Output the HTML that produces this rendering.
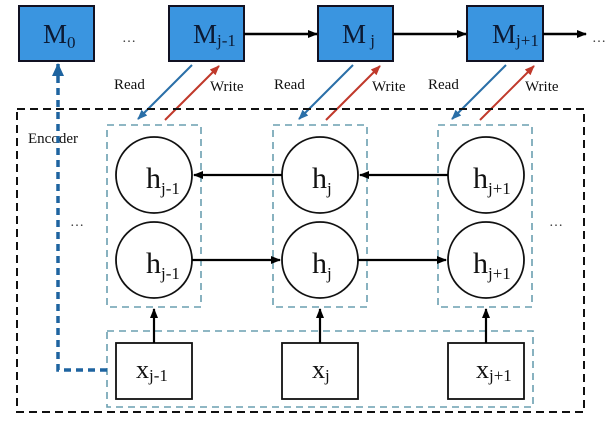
<!DOCTYPE html>
<html><head><meta charset="utf-8"><style>
html,body{margin:0;padding:0;background:#fff;}
svg{display:block;font-family:"Liberation Serif",serif;}
</style></head><body>
<svg width="615" height="422" viewBox="0 0 615 422" xmlns="http://www.w3.org/2000/svg">
<defs>
<marker id="ak" markerWidth="10" markerHeight="10" refX="9" refY="5" orient="auto" markerUnits="userSpaceOnUse"><path d="M0,1 L10,5 L0,9 z" fill="#000"/></marker>
<marker id="ab" markerWidth="10" markerHeight="10" refX="9" refY="5" orient="auto" markerUnits="userSpaceOnUse"><path d="M0,1 L10,5 L0,9 z" fill="#2a6fa8"/></marker>
<marker id="ar" markerWidth="10" markerHeight="10" refX="9" refY="5" orient="auto" markerUnits="userSpaceOnUse"><path d="M0,1 L10,5 L0,9 z" fill="#c0392b"/></marker>
<marker id="ad" markerWidth="14" markerHeight="14" refX="12" refY="7" orient="auto" markerUnits="userSpaceOnUse"><path d="M0,1 L13,7 L0,13 z" fill="#1e64a0"/></marker>
</defs>
<!-- M boxes -->
<g fill="#3a95e0" stroke="#112" stroke-width="2">
<rect x="19" y="6" width="75" height="55"/>
<rect x="169" y="6" width="75" height="55"/>
<rect x="318" y="6" width="75" height="55"/>
<rect x="467" y="6" width="76" height="55"/>
</g>
<g fill="#0c1a33" font-size="27">
<text x="43" y="43">M<tspan font-size="17" dy="5">0</tspan></text>
<text x="193" y="43">M<tspan font-size="17" dy="3">j-1</tspan></text>
<text x="342" y="43">M<tspan font-size="17" dy="3"> j</tspan></text>
<text x="492" y="43">M<tspan font-size="17" dy="3">j+1</tspan></text>
</g>
<text x="122" y="42" font-size="14" fill="#333">…</text>
<text x="592" y="42" font-size="14" fill="#333">…</text>
<g stroke="#000" stroke-width="2.5" fill="none">
<line x1="244" y1="34" x2="317" y2="34" marker-end="url(#ak)"/>
<line x1="393" y1="34" x2="466" y2="34" marker-end="url(#ak)"/>
<line x1="543" y1="34" x2="586" y2="34" marker-end="url(#ak)"/>
</g>
<!-- read/write -->
<g stroke-width="2" fill="none">
<line x1="192" y1="65" x2="138" y2="119" stroke="#2a6fa8" marker-end="url(#ab)"/>
<line x1="165" y1="120" x2="219" y2="66" stroke="#c0392b" marker-end="url(#ar)"/>
<line x1="353" y1="65" x2="299" y2="119" stroke="#2a6fa8" marker-end="url(#ab)"/>
<line x1="326" y1="120" x2="380" y2="66" stroke="#c0392b" marker-end="url(#ar)"/>
<line x1="506" y1="65" x2="452" y2="119" stroke="#2a6fa8" marker-end="url(#ab)"/>
<line x1="480" y1="120" x2="534" y2="66" stroke="#c0392b" marker-end="url(#ar)"/>
</g>
<g font-size="15" fill="#111">
<text x="114" y="89">Read</text><text x="210" y="91">Write</text>
<text x="274" y="89">Read</text><text x="372" y="91">Write</text>
<text x="428" y="89">Read</text><text x="525" y="91">Write</text>
</g>
<!-- outer -->
<rect x="17" y="109" width="567" height="303" fill="none" stroke="#111" stroke-width="2" stroke-dasharray="8,5"/>
<text x="28" y="143" font-size="15" fill="#111">Encoder</text>
<!-- blue boxes -->
<g fill="none" stroke="#6a9fb0" stroke-width="1.6" stroke-dasharray="7,5">
<rect x="107" y="125" width="94" height="182"/>
<rect x="273" y="125" width="94" height="182"/>
<rect x="438" y="125" width="94" height="182"/>
<rect x="107" y="331" width="426" height="76"/>
</g>
<!-- M0 connector -->
<polyline points="107,370 58,370 58,64" fill="none" stroke="#1e64a0" stroke-width="3.5" stroke-dasharray="7,5" marker-end="url(#ad)"/>
<text x="70" y="226" font-size="14" fill="#333">…</text>
<text x="549" y="226" font-size="14" fill="#333">…</text>
<!-- circles -->
<g fill="#fff" stroke="#111" stroke-width="1.8">
<ellipse cx="154" cy="175" rx="38" ry="38"/>
<ellipse cx="320" cy="175" rx="38" ry="38"/>
<ellipse cx="486" cy="175" rx="38" ry="38"/>
<ellipse cx="154" cy="260" rx="38" ry="38"/>
<ellipse cx="320" cy="260" rx="38" ry="38"/>
<ellipse cx="486" cy="260" rx="38" ry="38"/>
<rect x="116" y="343" width="76" height="56"/>
<rect x="282" y="343" width="76" height="56"/>
<rect x="448" y="343" width="76" height="56"/>
</g>
<g stroke="#000" stroke-width="2.2" fill="none">
<line x1="448" y1="175" x2="360" y2="175" marker-end="url(#ak)"/>
<line x1="282" y1="175" x2="194" y2="175" marker-end="url(#ak)"/>
<line x1="192" y1="260" x2="280" y2="260" marker-end="url(#ak)"/>
<line x1="358" y1="260" x2="446" y2="260" marker-end="url(#ak)"/>
<line x1="154" y1="343" x2="154" y2="309" marker-end="url(#ak)"/>
<line x1="320" y1="343" x2="320" y2="309" marker-end="url(#ak)"/>
<line x1="486" y1="343" x2="486" y2="309" marker-end="url(#ak)"/>
</g>
<g fill="#111" font-size="30">
<text x="146" y="188">h<tspan font-size="17" dy="6">j-1</tspan></text>
<text x="312" y="188">h<tspan font-size="17" dy="6">j</tspan></text>
<text x="473" y="188">h<tspan font-size="17" dy="6">j+1</tspan></text>
<text x="146" y="273">h<tspan font-size="17" dy="6">j-1</tspan></text>
<text x="312" y="273">h<tspan font-size="17" dy="6">j</tspan></text>
<text x="473" y="273">h<tspan font-size="17" dy="6">j+1</tspan></text>
<text x="136" y="378" font-size="26">x<tspan font-size="17" dy="3">j-1</tspan></text>
<text x="312" y="378" font-size="26">x<tspan font-size="17" dy="3">j</tspan></text>
<text x="476" y="378" font-size="26">x<tspan font-size="17" dy="3">j+1</tspan></text>
</g>
</svg>
</body></html>
